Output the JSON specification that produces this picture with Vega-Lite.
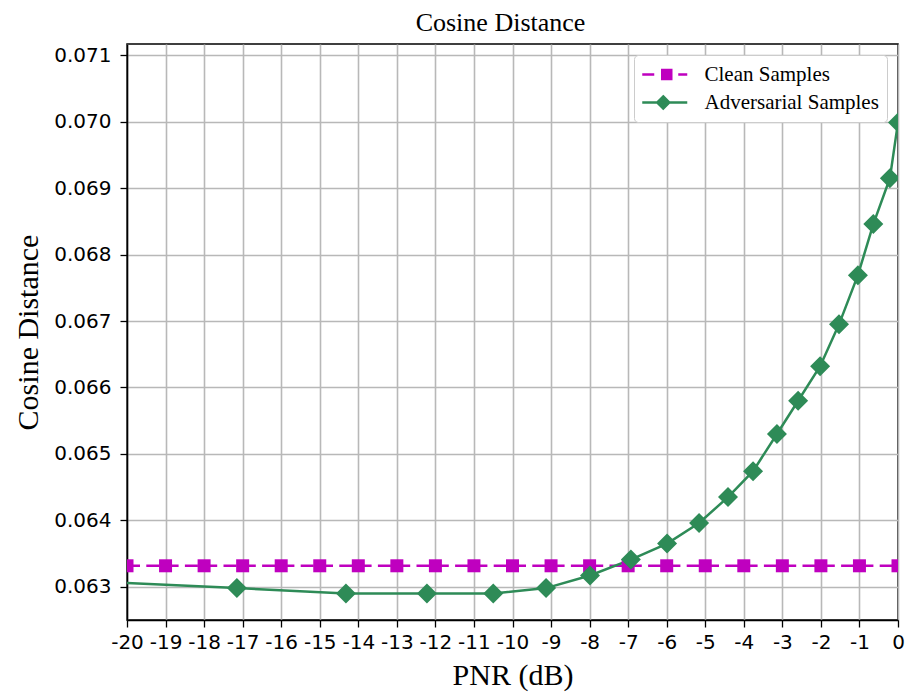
{
  "$schema": "https://vega.github.io/schema/vega-lite/v6.json",
  "autosize": {"type": "none"},
  "padding": {"left": 127, "top": 44, "right": 9, "bottom": 72},
  "width": 771,
  "height": 576,
  "background": "white",
  "title": {
    "text": "Cosine Distance",
    "font": "Liberation Serif",
    "fontSize": 26,
    "fontWeight": "normal",
    "color": "black",
    "anchor": "middle",
    "dx": -12,
    "offset": 8
  },
  "config": {
    "view": {"stroke": "black", "strokeWidth": 1.5},
    "axis": {
      "labelFont": "DejaVu Sans",
      "labelFontSize": 20,
      "labelColor": "black",
      "titleFont": "Liberation Serif",
      "titleFontSize": 30,
      "titleFontWeight": "normal",
      "titleColor": "black",
      "tickColor": "black",
      "tickSize": 7,
      "tickWidth": 1.3,
      "domainColor": "black",
      "domainWidth": 1.5,
      "gridColor": "#b8b8b8",
      "gridWidth": 1.6,
      "gridOpacity": 1
    }
  },
  "data": {
    "values": [
      {"pnr": -20, "dist": 0.063316, "series": "Clean Samples"},
      {"pnr": -19, "dist": 0.063316, "series": "Clean Samples"},
      {"pnr": -18, "dist": 0.063316, "series": "Clean Samples"},
      {"pnr": -17, "dist": 0.063316, "series": "Clean Samples"},
      {"pnr": -16, "dist": 0.063316, "series": "Clean Samples"},
      {"pnr": -15, "dist": 0.063316, "series": "Clean Samples"},
      {"pnr": -14, "dist": 0.063316, "series": "Clean Samples"},
      {"pnr": -13, "dist": 0.063316, "series": "Clean Samples"},
      {"pnr": -12, "dist": 0.063316, "series": "Clean Samples"},
      {"pnr": -11, "dist": 0.063316, "series": "Clean Samples"},
      {"pnr": -10, "dist": 0.063316, "series": "Clean Samples"},
      {"pnr": -9, "dist": 0.063316, "series": "Clean Samples"},
      {"pnr": -8, "dist": 0.063316, "series": "Clean Samples"},
      {"pnr": -7, "dist": 0.063316, "series": "Clean Samples"},
      {"pnr": -6, "dist": 0.063316, "series": "Clean Samples"},
      {"pnr": -5, "dist": 0.063316, "series": "Clean Samples"},
      {"pnr": -4, "dist": 0.063316, "series": "Clean Samples"},
      {"pnr": -3, "dist": 0.063316, "series": "Clean Samples"},
      {"pnr": -2, "dist": 0.063316, "series": "Clean Samples"},
      {"pnr": -1, "dist": 0.063316, "series": "Clean Samples"},
      {"pnr": 0, "dist": 0.063316, "series": "Clean Samples"},
      {"pnr": -21.5, "dist": 0.06310, "series": "Adversarial Samples"},
      {"pnr": -17.15, "dist": 0.06298, "series": "Adversarial Samples"},
      {"pnr": -14.32, "dist": 0.06290, "series": "Adversarial Samples"},
      {"pnr": -12.22, "dist": 0.06290, "series": "Adversarial Samples"},
      {"pnr": -10.5, "dist": 0.06290, "series": "Adversarial Samples"},
      {"pnr": -9.13, "dist": 0.06298, "series": "Adversarial Samples"},
      {"pnr": -7.99, "dist": 0.06317, "series": "Adversarial Samples"},
      {"pnr": -6.93, "dist": 0.06341, "series": "Adversarial Samples"},
      {"pnr": -5.99, "dist": 0.06365, "series": "Adversarial Samples"},
      {"pnr": -5.16, "dist": 0.06396, "series": "Adversarial Samples"},
      {"pnr": -4.41, "dist": 0.06435, "series": "Adversarial Samples"},
      {"pnr": -3.76, "dist": 0.06474, "series": "Adversarial Samples"},
      {"pnr": -3.14, "dist": 0.06530, "series": "Adversarial Samples"},
      {"pnr": -2.59, "dist": 0.06580, "series": "Adversarial Samples"},
      {"pnr": -2.02, "dist": 0.06632, "series": "Adversarial Samples"},
      {"pnr": -1.53, "dist": 0.06695, "series": "Adversarial Samples"},
      {"pnr": -1.04, "dist": 0.06769, "series": "Adversarial Samples"},
      {"pnr": -0.64, "dist": 0.06846, "series": "Adversarial Samples"},
      {"pnr": -0.21, "dist": 0.06915, "series": "Adversarial Samples"},
      {"pnr": 0, "dist": 0.06999, "series": "Adversarial Samples"}
    ]
  },
  "encoding": {
    "x": {
      "field": "pnr",
      "type": "quantitative",
      "scale": {"domain": [-20, 0], "nice": false, "zero": false},
      "axis": {
        "title": "PNR (dB)",
        "values": [-20, -19, -18, -17, -16, -15, -14, -13, -12, -11, -10, -9, -8, -7, -6, -5, -4, -3, -2, -1, 0],
        "labelExpr": "replace(datum.label, '\u2212', '-')",
        "labelPadding": 5,
        "labelFlush": false,
        "labelOverlap": false,
        "titleBaseline": "alphabetic",
        "titleY": 64
      }
    },
    "y": {
      "field": "dist",
      "type": "quantitative",
      "scale": {"domain": [0.0625, 0.07117], "nice": false, "zero": false},
      "axis": {
        "title": "Cosine Distance",
        "values": [0.063, 0.064, 0.065, 0.066, 0.067, 0.068, 0.069, 0.07, 0.071],
        "format": ".3f",
        "labelPadding": 9,
        "labelFlush": false,
        "labelOverlap": false,
        "titleAngle": -90,
        "titleAlign": "center",
        "titleBaseline": "alphabetic",
        "titleX": -90,
        "titleY": 288
      }
    },
    "color": {
      "field": "series",
      "type": "nominal",
      "scale": {"domain": ["Clean Samples", "Adversarial Samples"], "range": ["#BF00BF", "#2E8B57"]},
      "legend": {
        "title": null,
        "orient": "top-right",
        "offset": 11,
        "padding": 8,
        "fillColor": "#ffffff",
        "strokeColor": "#cccccc",
        "cornerRadius": 4,
        "labelFont": "Liberation Serif",
        "labelFontSize": 21,
        "labelColor": "black",
        "labelOffset": 39.5,
        "labelLimit": 400,
        "symbolSize": 400,
        "symbolStrokeWidth": 2.5,
        "rowPadding": 6,
        "encode": {
          "symbols": {
            "update": {
              "shape": {"signal": "datum.value === 'Clean Samples' ? 'M-1.125,0H0.075M2.475,0H3.375M0.875,-0.45H1.775V0.45H0.875Z' : 'M-1.125,0H3.375M0.975,-0.6L1.575,0L0.975,0.6L0.375,0Z'"},
              "fill": {"signal": "datum.value === 'Clean Samples' ? '#BF00BF' : '#2E8B57'"},
              "stroke": {"signal": "datum.value === 'Clean Samples' ? '#BF00BF' : '#2E8B57'"}
            }
          }
        }
      }
    }
  },
  "layer": [
    {
      "transform": [{"filter": "datum.series === 'Clean Samples'"}],
      "mark": {"type": "line", "clip": true, "strokeWidth": 2.5, "strokeDash": [13, 6.3]},
      "encoding": {"order": {"field": "pnr", "type": "quantitative"}}
    },
    {
      "transform": [{"filter": "datum.series === 'Adversarial Samples'"}],
      "mark": {"type": "line", "clip": true, "strokeWidth": 2.5},
      "encoding": {"order": {"field": "pnr", "type": "quantitative"}}
    },
    {
      "transform": [{"filter": "datum.series === 'Clean Samples'"}],
      "mark": {"type": "point", "clip": true, "filled": true, "opacity": 1, "shape": "square", "size": 169, "strokeWidth": 0}
    },
    {
      "transform": [{"filter": "datum.series === 'Adversarial Samples'"}],
      "mark": {"type": "point", "clip": true, "filled": true, "opacity": 1, "shape": "diamond", "size": 400, "strokeWidth": 0}
    }
  ]
}
